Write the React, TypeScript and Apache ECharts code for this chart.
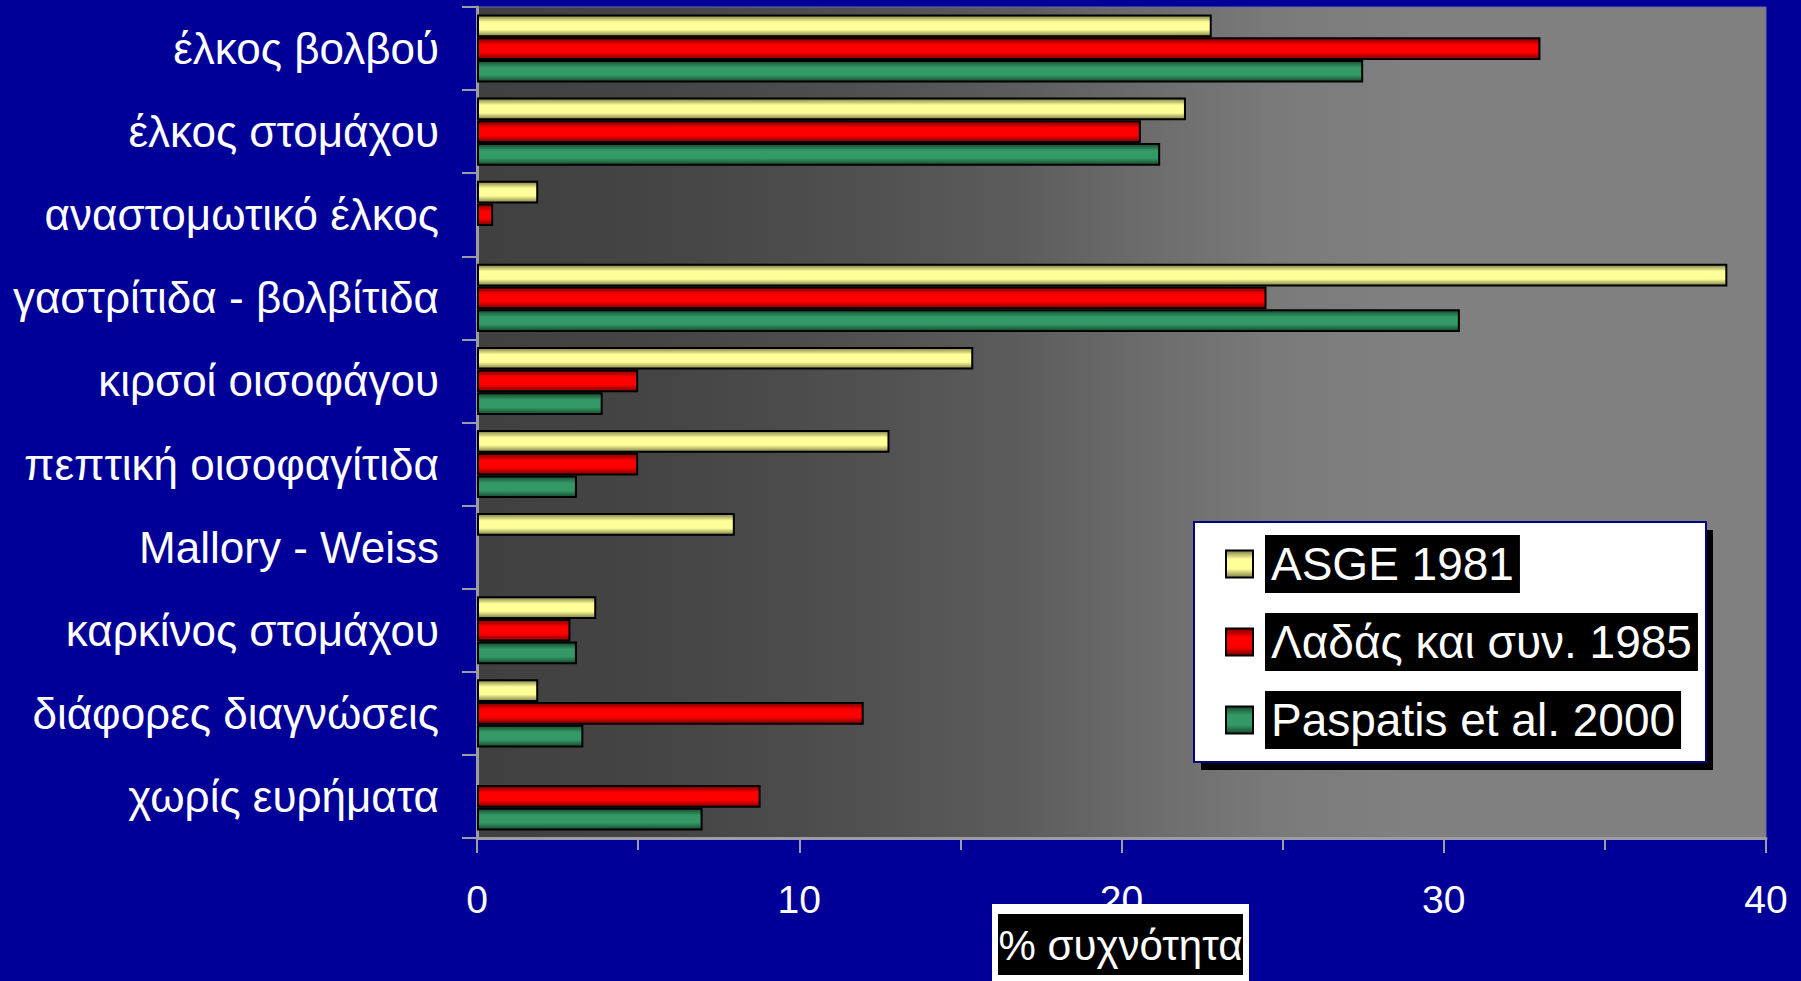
import React, { useEffect, useRef } from "react";
import * as echarts from "echarts";

// Endoscopic findings (% frequency) in three series of patients
const categories = [
  "έλκος βολβού",
  "έλκος στομάχου",
  "αναστομωτικό έλκος",
  "γαστρίτιδα - βολβίτιδα",
  "κιρσοί οισοφάγου",
  "πεπτική οισοφαγίτιδα",
  "Mallory - Weiss",
  "καρκίνος στομάχου",
  "διάφορες διαγνώσεις",
  "χωρίς ευρήματα",
];
const seriesNames = ["ASGE 1981", "Λαδάς και συν. 1985", "Paspatis et al. 2000"];
const asge1981 = [22.8, 22.0, 1.9, 38.8, 15.4, 12.8, 8.0, 3.7, 1.9, 0];
const ladas1985 = [33.0, 20.6, 0.5, 24.5, 5.0, 5.0, 0, 2.9, 12.0, 8.8];
const paspatis2000 = [27.5, 21.2, 0, 30.5, 3.9, 3.1, 0, 3.1, 3.3, 7.0];
const xMin = 0;
const xMax = 40;
const xStep = 10;
const axisTitle = "% συχνότητα";

const FONT = '"Liberation Sans", Arial, sans-serif';
const AXIS_GRAY = "#9c9ca4";

// cylinder-like shading across the bar thickness
const shade = (edge: string, mid: string) => ({
  type: "linear",
  x: 0,
  y: 0,
  x2: 0,
  y2: 1,
  colorStops: [
    { offset: 0, color: edge },
    { offset: 0.32, color: mid },
    { offset: 0.68, color: mid },
    { offset: 1, color: edge },
  ],
});

const palette = [
  shade("#7f7f48", "#ffff99"),
  shade("#7a0000", "#ff0000"),
  shade("#174a2e", "#339966"),
];

const seriesValues = [asge1981, ladas1985, paspatis2000];

export default function App() {
  const ref = useRef<HTMLDivElement>(null);

  useEffect(() => {
    document.body.style.margin = "0";
    if (!ref.current) return;
    const chart = echarts.init(ref.current, undefined, { renderer: "svg" });

    const series = seriesNames.map((name, i) => ({
      name,
      type: "bar",
      data: seriesValues[i].map((v) => (v === 0 ? null : v)),
      barGap: "0%",
      barCategoryGap: "18%",
      itemStyle: {
        color: palette[i],
        borderColor: "#000",
        borderWidth: 2,
      },
      emphasis: { disabled: true },
      z: 2,
    }));

    chart.setOption({
      animation: false,
      backgroundColor: "#000099",
      grid: {
        left: 477,
        right: 35,
        top: 7,
        bottom: 143,
        outerBoundsMode: "none",
        containLabel: false,
        show: true,
        borderWidth: 1,
        borderColor: "#6a6aa8",
        backgroundColor: {
          type: "linear",
          x: 0,
          y: 0,
          x2: 1,
          y2: 0,
          colorStops: [
            { offset: 0, color: "#404040" },
            { offset: 0.15, color: "#454545" },
            { offset: 0.3, color: "#505050" },
            { offset: 0.42, color: "#5c5c5c" },
            { offset: 0.52, color: "#6c6c6c" },
            { offset: 0.62, color: "#7a7a7a" },
            { offset: 0.72, color: "#808080" },
            { offset: 1, color: "#808080" },
          ],
        },
      },
      xAxis: {
        type: "value",
        min: xMin,
        max: xMax,
        interval: xStep,
        axisLine: { show: true, lineStyle: { color: AXIS_GRAY, width: 3 } },
        axisTick: { show: true, length: 15, lineStyle: { color: AXIS_GRAY, width: 2 } },
        minorTick: { show: true, splitNumber: 2, length: 12, lineStyle: { color: AXIS_GRAY, width: 2 } },
        splitLine: { show: false },
        minorSplitLine: { show: false },
        axisLabel: {
          color: "#fff",
          fontSize: 39,
          fontFamily: FONT,
          margin: 42,
        },
      },
      yAxis: {
        type: "category",
        inverse: true,
        data: categories,
        axisLine: { show: true, lineStyle: { color: AXIS_GRAY, width: 3 } },
        axisTick: { show: true, length: 15, alignWithLabel: false, lineStyle: { color: AXIS_GRAY, width: 2 } },
        axisLabel: {
          color: "#fff",
          fontSize: 44,
          fontFamily: FONT,
          margin: 38,
        },
      },
      legend: {
        data: seriesNames,
        orient: "vertical",
        left: 1225,
        top: 535,
        padding: 0,
        itemGap: 20,
        itemWidth: 27,
        itemHeight: 27,
        icon: "rect",
        selectedMode: false,
        z: 5,
        formatter: (name: string) => `{g| }{t|${name}}`,
        textStyle: {
          color: "#fff",
          fontSize: 46,
          fontFamily: FONT,
          rich: {
            g: { width: 7, fontSize: 46 },
            t: {
              color: "#fff",
              fontSize: 46,
              fontFamily: FONT,
              backgroundColor: "#000",
              padding: [6, 6, 6, 6],
            },
          },
        },
      },
      graphic: [
        {
          type: "rect",
          z: 3,
          shape: { x: 1201, y: 530, width: 512, height: 240 },
          style: { fill: "#000" },
        },
        {
          type: "rect",
          z: 4,
          shape: { x: 1194, y: 522, width: 512, height: 240 },
          style: { fill: "#fff", stroke: "#000080", lineWidth: 2 },
        },
        {
          type: "group",
          z: 4,
          children: [
            {
              type: "rect",
              shape: { x: 992, y: 904, width: 257, height: 80 },
              style: { fill: "#fff" },
            },
            {
              type: "rect",
              shape: { x: 998, y: 914, width: 245, height: 61 },
              style: { fill: "#000" },
            },
            {
              type: "text",
              x: 1120.5,
              y: 945,
              style: {
                text: axisTitle,
                fill: "#fff",
                fontSize: 42,
                fontFamily: FONT,
                align: "center",
                verticalAlign: "middle",
              },
            },
          ],
        },
      ],
      series,
    });

    return () => chart.dispose();
  }, []);

  return (
    <div
      ref={ref}
      style={{ position: "fixed", left: 0, top: 0, width: 1801, height: 981 }}
    />
  );
}
